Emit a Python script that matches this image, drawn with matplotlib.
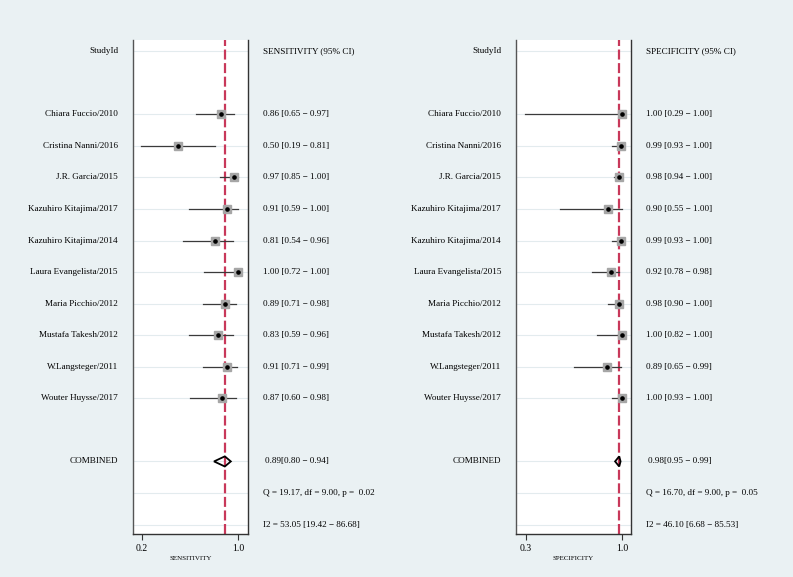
import matplotlib.pyplot as plt
from matplotlib.transforms import blended_transform_factory
from matplotlib.patches import Polygon

plt.rcParams['font.family'] = ['Liberation Serif', 'DejaVu Serif']

# data
studies = ["Chiara Fuccio/2010", "Cristina Nanni/2016", "J.R. Garcia/2015",
           "Kazuhiro Kitajima/2017", "Kazuhiro Kitajima/2014", "Laura Evangelista/2015",
           "Maria Picchio/2012", "Mustafa Takesh/2012", "W.Langsteger/2011",
           "Wouter Huysse/2017"]
sens = [0.86, 0.50, 0.97, 0.91, 0.81, 1.00, 0.89, 0.83, 0.91, 0.87]
sens_lo = [0.65, 0.19, 0.85, 0.59, 0.54, 0.72, 0.71, 0.59, 0.71, 0.60]
sens_hi = [0.97, 0.81, 1.00, 1.00, 0.96, 1.00, 0.98, 0.96, 0.99, 0.98]
spec = [1.00, 0.99, 0.98, 0.90, 0.99, 0.92, 0.98, 1.00, 0.89, 1.00]
spec_lo = [0.29, 0.93, 0.94, 0.55, 0.93, 0.78, 0.90, 0.82, 0.65, 0.93]
spec_hi = [1.00, 1.00, 1.00, 1.00, 1.00, 0.98, 1.00, 1.00, 0.99, 1.00]
pooled_sens = (0.89, 0.80, 0.94)
pooled_spec = (0.98, 0.95, 0.99)
het_sens = ("Q = 19.17, df = 9.00, p =  0.02", "I2 = 53.05 [19.42 \u2212 86.68]")
het_spec = ("Q = 16.70, df = 9.00, p =  0.05", "I2 = 46.10 [6.68 \u2212 85.53]")

BG = "#eaf1f3"
RED = "#c8385a"
FS = 6.6

fig = plt.figure(figsize=(7.93, 5.77), dpi=100, facecolor=BG)


def panel(left, xlim, ticks, tick_labels, est, lo, hi, pooled, het, title, xlabel):
    ax = fig.add_axes([left, 0.0745, 0.145, 0.856])
    ax.set_xlim(*xlim)
    ax.set_ylim(15.3, -0.35)
    rows = list(range(2, 2 + len(studies)))
    for r in [0] + rows + [13, 14, 15]:
        ax.axhline(r, color="#e3ebee", lw=0.8, zorder=0)
    ax.axvline(pooled[0], color=RED, lw=1.6, ls=(0, (4.5, 1.6)), zorder=1)
    for r, e, l, h in zip(rows, est, lo, hi):
        ax.plot([l, h], [r, r], color="#3a3a3a", lw=0.9, zorder=2)
        ax.plot(e, r, marker="s", ms=6, color="#a6a6a6", mec="#a6a6a6", zorder=3)
        ax.plot(e, r, marker="o", ms=2.3, color="black", zorder=4)
    p, pl, ph = pooled
    dia = Polygon([[pl, 13], [p, 12.84], [ph, 13], [p, 13.16]], closed=True,
                  fill=False, ec="black", lw=1.3, zorder=4)
    ax.add_patch(dia)

    ax.set_yticks([])
    ax.set_xticks(ticks)
    ax.set_xticklabels(tick_labels, fontsize=FS + 0.4)
    ax.tick_params(axis="x", length=4, width=0.8, color="#333333", pad=3)
    ax.set_xlabel(xlabel, fontsize=5, labelpad=2)
    ax.spines["top"].set_visible(False)
    ax.spines["left"].set_color("#555555")
    ax.spines["right"].set_color("#333333")
    ax.spines["bottom"].set_color("#333333")
    for s in ["left", "right", "bottom"]:
        ax.spines[s].set_linewidth(1.0)

    tr = blended_transform_factory(fig.transFigure, ax.transData)
    name_x = left - 15 / 793
    val_x = left + 0.145 + 15 / 793
    ax.text(name_x, 0, "StudyId", transform=tr, ha="right", va="center", fontsize=FS)
    ax.text(val_x, 0, title, transform=tr, ha="left", va="center", fontsize=FS)
    for r, name, e, l, h in zip(rows, studies, est, lo, hi):
        ax.text(name_x, r, name, transform=tr, ha="right", va="center", fontsize=FS)
        ax.text(val_x, r, f"{e:.2f} [{l:.2f} \u2212 {h:.2f}]", transform=tr,
                ha="left", va="center", fontsize=FS)
    ax.text(name_x, 13, "COMBINED", transform=tr, ha="right", va="center", fontsize=FS)
    ax.text(val_x + 2 / 793, 13, f"{p:.2f}[{pl:.2f} \u2212 {ph:.2f}]", transform=tr,
            ha="left", va="center", fontsize=FS)
    ax.text(val_x, 14, het[0], transform=tr, ha="left", va="center", fontsize=FS)
    ax.text(val_x, 15, het[1], transform=tr, ha="left", va="center", fontsize=FS)
    return ax


panel(133 / 793, (0.125, 1.083), [0.2, 1.0], ["0.2", "1.0"], sens, sens_lo, sens_hi,
      pooled_sens, het_sens, "SENSITIVITY (95% CI)", "SENSITIVITY")
panel(516 / 793, (0.227, 1.066), [0.3, 1.0], ["0.3", "1.0"], spec, spec_lo, spec_hi,
      pooled_spec, het_spec, "SPECIFICITY (95% CI)", "SPECIFICITY")

fig.savefig("out.png", dpi=100, facecolor=BG)
